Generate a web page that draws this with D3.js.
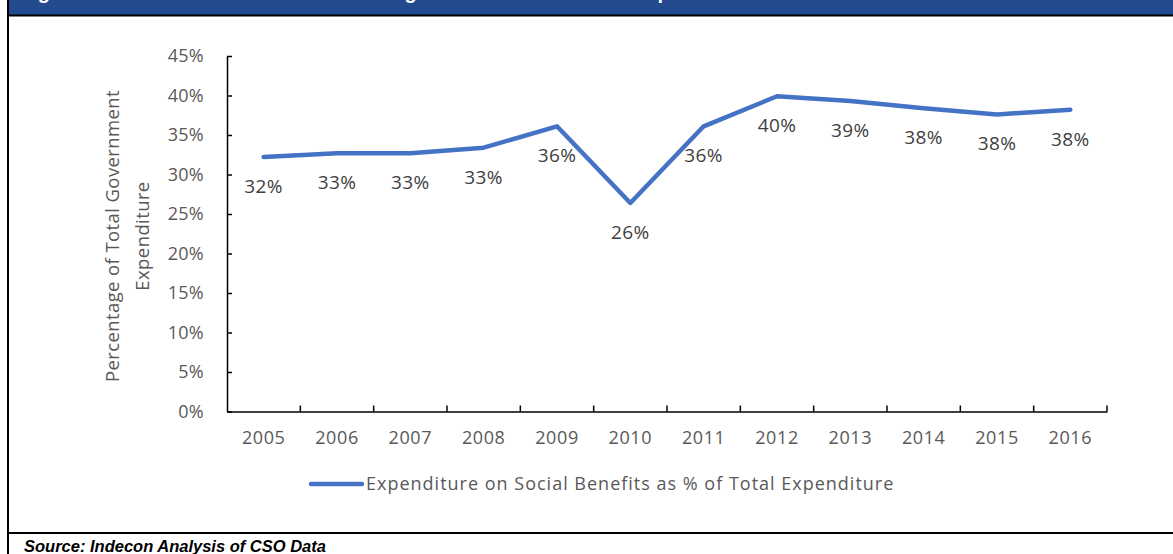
<!DOCTYPE html>
<html>
<head>
<meta charset="utf-8">
<script src="https://cdn.jsdelivr.net/npm/d3@7"></script>
<style>
  body { margin: 0; background: #fff; }
  svg { display: block; }
</style>
</head>
<body>
<div id="chart"></div>
<script>
// data
const years = ['2005', '2006', '2007', '2008', '2009', '2010',
               '2011', '2012', '2013', '2014', '2015', '2016'];
const shares = [32.2, 32.7, 32.7, 33.4, 36.1, 26.4,
                36.1, 39.9, 39.3, 38.4, 37.6, 38.2];
const yTicks = [0, 5, 10, 15, 20, 25, 30, 35, 40, 45];
const seriesName = 'Expenditure on Social Benefits as % of Total Expenditure';
const titleText = 'Figure 3.1: Social Benefits as a Percentage of Total Government Expenditure';
const sourceText = 'Source: Indecon Analysis of CSO Data';

const W = 1173, H = 554;
const font = "'Open Sans', sans-serif";

const svg = d3.select('#chart')
    .append('svg')
    .attr('width', W)
    .attr('height', H);

// header bar (title mostly cut off at the top edge, as in the original)
svg.append('rect')
    .attr('x', 9).attr('y', 0)
    .attr('width', W - 9).attr('height', 15)
    .attr('fill', '#234a8f');
svg.append('text')
    .attr('x', 20).attr('y', -1)
    .attr('fill', '#fff')
    .attr('font-family', "'Liberation Sans', Arial, sans-serif")
    .attr('font-weight', 'bold')
    .attr('font-size', 20)
    .text(titleText);

// frame lines
svg.append('line')
    .attr('x1', 8).attr('x2', W).attr('y1', 15.5).attr('y2', 15.5)
    .attr('stroke', '#000').attr('stroke-width', 2);
svg.append('line')
    .attr('x1', 8).attr('x2', 8).attr('y1', 0).attr('y2', H)
    .attr('stroke', '#000').attr('stroke-width', 2);
svg.append('line')
    .attr('x1', 8).attr('x2', W).attr('y1', 533).attr('y2', 533)
    .attr('stroke', '#000').attr('stroke-width', 2);

// scales
const x = d3.scaleBand()
    .domain(years)
    .range([227, 1107])
    .padding(0);

const y = d3.scaleLinear()
    .domain([0, 45])
    .range([411.5, 56]);

const xCenter = d => x(d) + x.bandwidth() / 2;

// y axis
const yAxis = d3.axisLeft(y)
    .tickValues(yTicks)
    .tickFormat(d => d + '%')
    .tickSizeInner(-5)
    .tickSizeOuter(0)
    .tickPadding(23);

const gy = svg.append('g')
    .attr('transform', 'translate(227,0)')
    .call(yAxis);
gy.select('.domain').attr('stroke', '#000').attr('stroke-width', 1.5);
gy.selectAll('.tick line').attr('stroke', '#000').attr('stroke-width', 1.5);
gy.selectAll('.tick text')
    .attr('fill', '#595959')
    .attr('font-family', font)
    .attr('font-size', 18)
    .attr('letter-spacing', 0.3);

// x axis: labels centred in bands, ticks on the band edges
const xAxis = d3.axisBottom(x)
    .tickSize(0)
    .tickPadding(20);

const gx = svg.append('g')
    .attr('transform', 'translate(0,411.5)')
    .call(xAxis);
gx.select('.domain').attr('stroke', '#000').attr('stroke-width', 1.5);
gx.selectAll('.tick text')
    .attr('fill', '#595959')
    .attr('font-family', font)
    .attr('font-size', 18)
    .attr('letter-spacing', 0.6);

gx.selectAll('.edge')
    .data(years)
    .enter().append('line')
    .attr('class', 'edge')
    .attr('x1', d => x(d) + x.bandwidth())
    .attr('x2', d => x(d) + x.bandwidth())
    .attr('y1', 0).attr('y2', -6)
    .attr('stroke', '#000').attr('stroke-width', 1.5);

// y axis title, two lines
const yTitle = svg.append('text')
    .attr('transform', 'translate(112,236) rotate(-90)')
    .attr('text-anchor', 'middle')
    .attr('fill', '#595959')
    .attr('font-family', font)
    .attr('font-size', 18.5)
    .attr('letter-spacing', 0.4);
yTitle.append('tspan').attr('x', 0).attr('y', 7).text('Percentage of Total Government');
yTitle.append('tspan').attr('x', 0).attr('y', 37).text('Expenditure');

// the line
const line = d3.line()
    .x((d, i) => xCenter(years[i]))
    .y(d => y(d));

svg.append('path')
    .datum(shares)
    .attr('fill', 'none')
    .attr('stroke', '#4472c4')
    .attr('stroke-width', 4.5)
    .attr('stroke-linejoin', 'round')
    .attr('stroke-linecap', 'round')
    .attr('d', line);

// data labels below each point
svg.selectAll('.label')
    .data(shares)
    .enter().append('text')
    .attr('class', 'label')
    .attr('x', (d, i) => xCenter(years[i]))
    .attr('y', d => y(d) + 36)
    .attr('text-anchor', 'middle')
    .attr('fill', '#404040')
    .attr('font-family', font)
    .attr('font-size', 19)
    .attr('letter-spacing', 0.4)
    .text(d => Math.round(d) + '%');

// legend
svg.append('line')
    .attr('x1', 311).attr('x2', 362)
    .attr('y1', 484).attr('y2', 484)
    .attr('stroke', '#4472c4')
    .attr('stroke-width', 4.5)
    .attr('stroke-linecap', 'round');
svg.append('text')
    .attr('x', 366).attr('y', 490)
    .attr('fill', '#595959')
    .attr('font-family', font)
    .attr('font-size', 18)
    .attr('letter-spacing', 1)
    .text(seriesName);

// source note, cut at the bottom edge
svg.append('text')
    .attr('x', 24).attr('y', 552)
    .attr('fill', '#000')
    .attr('font-family', "'Liberation Sans', Arial, sans-serif")
    .attr('font-weight', 'bold')
    .attr('font-style', 'italic')
    .attr('font-size', 16.5)
    .text(sourceText);
</script>
</body>
</html>
